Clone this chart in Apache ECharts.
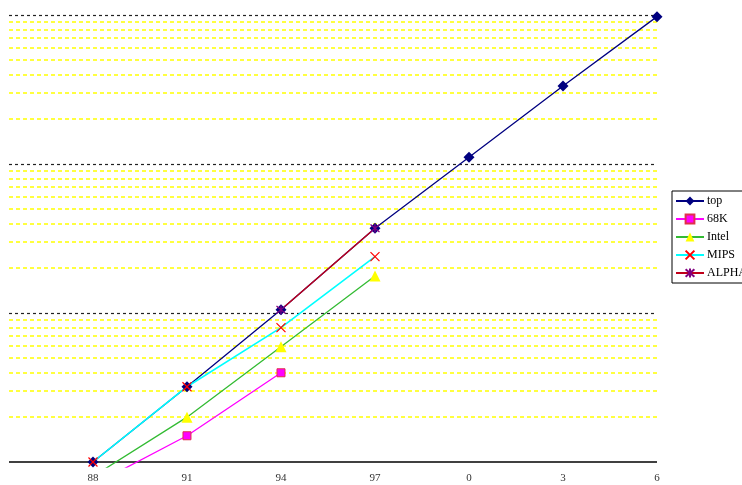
<!DOCTYPE html>
<html>
<head>
<meta charset="utf-8">
<script src="https://cdn.jsdelivr.net/npm/echarts@6/dist/echarts.min.js"></script>
<style>html,body{margin:0;padding:0;background:#fff}#c{width:742px;height:485px}</style>
</head>
<body>
<div id="c"></div>
<script>
// ---- data ----
var years = [88, 91, 94, 97, 100, 103, 106];
var xLabels = ['88', '91', '94', '97', '0', '3', '6'];
var topVals   = [1.0, 3.2, 10.5, 37.0, 111, 334, 975];
var m68kVals  = [0.70, 1.5, 3.97, null, null, null, null];
var intelVals = [0.80, 2.0, 5.94, 17.7, null, null, null];
var mipsVals  = [1.0, 3.2, 7.97, 23.9, null, null, null];
var alphaVals = [null, null, 10.5, 37.0, null, null, null];
var decadeLines = [10, 100, 1000];
var minorLines = [2,3,4,5,6,7,8,9, 20,30,40,50,60,70,80,90, 200,300,400,500,600,700,800,900];
var baseLine = 1;

function pairs(vals) {
  return years.map(function (y, i) { return [y, vals[i]]; });
}

var serif = '"Liberation Serif", "DejaVu Serif", serif';
var chart = echarts.init(document.getElementById('c'), null, {renderer: 'canvas'});

var markData = [];
minorLines.forEach(function (v) {
  markData.push({yAxis: v, lineStyle: {color: '#FFFF00', type: [4, 3], width: 1.6}});
});
decadeLines.forEach(function (v) {
  markData.push({yAxis: v, lineStyle: {color: '#222', type: [3, 3], width: 1.2}});
});
markData.push({yAxis: baseLine, lineStyle: {color: '#000', type: 'solid', width: 1.5}});

var option = {
  animation: false,
  backgroundColor: '#fff',
  grid: {left: 9, right: 85, top: 15, bottom: 18},
  xAxis: {
    type: 'value',
    min: 85.32,
    max: 106,
    axisLine: {show: false},
    axisTick: {show: false},
    splitLine: {show: false},
    axisLabel: {
      customValues: years,
      margin: 6,
      fontFamily: serif,
      fontSize: 11,
      color: '#333',
      formatter: function (v) {
        var i = years.indexOf(Math.round(v));
        return i >= 0 ? xLabels[i] : '';
      }
    }
  },
  yAxis: {
    type: 'log',
    logBase: 10,
    min: Math.pow(10, -5 / 149),
    max: 1000,
    axisLine: {show: false},
    axisTick: {show: false},
    axisLabel: {show: false},
    splitLine: {show: false}
  },
  legend: {
    orient: 'vertical',
    left: 672,
    top: 191,
    padding: [4, 40, 4, 3],
    itemGap: 6,
    itemWidth: 28,
    itemHeight: 11,
    borderColor: '#000',
    borderWidth: 1,
    backgroundColor: '#fff',
    textStyle: {fontFamily: serif, fontSize: 12, color: '#000', padding: [0, 0, 0, -2]},
    data: ['top', '68K', 'Intel', 'MIPS', 'ALPHA']
  },
  series: [
    {
      name: '_grid', type: 'line', data: [], z: 1, silent: true,
      markLine: {silent: true, symbol: 'none', z: 1, label: {show: false}, animation: false, data: markData}
    },
    {
      name: 'top', type: 'line', data: pairs(topVals), z: 2,
      symbol: 'diamond', symbolSize: [11, 11],
      lineStyle: {color: '#000080', width: 1.3},
      itemStyle: {color: '#000080'}
    },
    {
      name: '68K', type: 'line', data: pairs(m68kVals), z: 2,
      symbol: 'rect', symbolSize: 8,
      lineStyle: {color: '#FF00FF', width: 1.3},
      itemStyle: {color: '#FF00FF', borderColor: '#E0304A', borderWidth: 1}
    },
    {
      name: 'Intel', type: 'line', data: pairs(intelVals), z: 2,
      symbol: 'triangle', symbolSize: 11,
      lineStyle: {color: '#33BB33', width: 1.3},
      itemStyle: {color: '#FFFF00'}
    },
    {
      name: 'MIPS', type: 'line', data: pairs(mipsVals), z: 2,
      symbol: 'path://M0,0L10,10M10,0L0,10', symbolSize: 9,
      lineStyle: {color: '#00FFFF', width: 1.6},
      itemStyle: {color: '#FF0000', borderColor: '#FF0000', borderWidth: 1.2}
    },
    {
      name: 'ALPHA', type: 'line', data: pairs(alphaVals), z: 2,
      symbol: 'path://M0,0L10,10M10,0L0,10M5,-1L5,11', symbolSize: 9,
      lineStyle: {color: '#C0001A', width: 1.4},
      itemStyle: {color: '#800080', borderColor: '#800080', borderWidth: 1.3}
    }
  ]
};
chart.setOption(option);
</script>
</body>
</html>
